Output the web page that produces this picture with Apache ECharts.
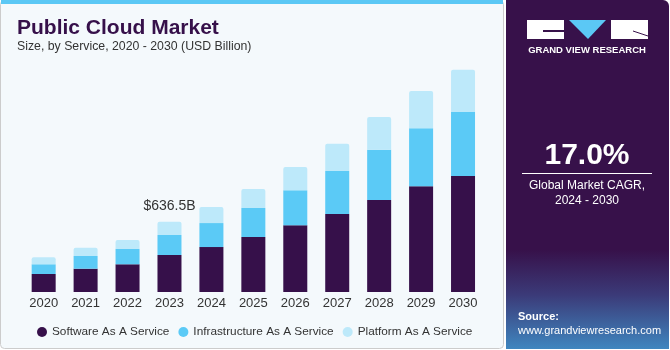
<!DOCTYPE html>
<html>
<head>
<meta charset="utf-8">
<script src="https://cdn.jsdelivr.net/npm/echarts@6/dist/echarts.min.js"></script>
<style>
  html, body { margin: 0; padding: 0; background: #ffffff; }
  #chart { width: 670px; height: 350px; }
</style>
</head>
<body>
<div id="chart"></div>
<script>
// 年份
var years = ['2020', '2021', '2022', '2023', '2024', '2025', '2026', '2027', '2028', '2029', '2030']
// 各服务的规模 (USD Billion)
var saas = [163, 211, 251, 335, 407, 498, 604, 706, 833, 957, 1050]
var iaas = [88, 115, 139, 181, 217, 263, 317, 389, 455, 525, 579]
var paas = [63, 75, 81, 120, 145, 172, 211, 247, 296, 338, 383]
// 2023 标注
var markYear = '2023'
var markText = '$636.5B'

var colorList = ['#36104A', '#5BCAF6', '#BDE9FA']
var textFont = '"Liberation Sans", Arial, sans-serif'

var myChart = echarts.init(document.getElementById('chart'))

var barLabel = {
  show: true,
  position: 'top',
  distance: 9,
  color: '#333333',
  fontSize: 14,
  fontFamily: textFont,
  formatter: function (p) {
    return p.name === markYear ? markText : ''
  }
}

myChart.setOption({
  animation: false,
  color: colorList,
  textStyle: { fontFamily: textFont },
  graphic: [
    // 左边白底卡片
    { type: 'rect', shape: { x: 0.5, y: 0.5, width: 503, height: 348, r: 4 }, style: { fill: '#F4F9FC', stroke: '#CCCCCC', lineWidth: 1 }, z: -10 },
    { type: 'rect', shape: { x: 1, y: 0, width: 502, height: 4 }, style: { fill: '#5BC8F5' }, z: -9 },
    // 标题
    { type: 'text', left: 17, top: 18, style: { text: 'Public Cloud Market', fill: '#36104A', font: '900 21px "Liberation Sans", Arial, sans-serif' } },
    { type: 'text', left: 17, top: 41, style: { text: 'Size, by Service, 2020 - 2030 (USD Billion)', fill: '#333333', font: '12.3px "Liberation Sans", Arial, sans-serif' } },
    // 右边紫色面板
    { type: 'rect', shape: { x: 506, y: 0, width: 163, height: 349, r: [0, 6, 0, 0] }, style: { fill: '#37114A' }, z: -10 },
    {
      type: 'rect', shape: { x: 506, y: 250, width: 163, height: 99 }, z: -9,
      style: {
        fill: new echarts.graphic.LinearGradient(0, 0, 0, 1, [
          { offset: 0, color: 'rgba(55,17,74,1)' },
          { offset: 0.45, color: '#3B3A78' },
          { offset: 1, color: '#3F86BF' }
        ])
      }
    },
    // logo
    { type: 'rect', shape: { x: 527, y: 20, width: 37, height: 19 }, style: { fill: '#ffffff' } },
    { type: 'rect', shape: { x: 543, y: 30, width: 21, height: 2 }, style: { fill: '#37114A' } },
    { type: 'polygon', shape: { points: [[569, 20], [606, 20], [588, 39]] }, style: { fill: '#5BC8F5' } },
    { type: 'rect', shape: { x: 611, y: 20, width: 37, height: 19 }, style: { fill: '#ffffff' } },
    { type: 'line', shape: { x1: 633, y1: 31, x2: 648, y2: 36 }, style: { stroke: '#37114A', lineWidth: 1 } },
    { type: 'text', x: 587, y: 50, style: { text: 'GRAND VIEW RESEARCH', fill: '#ffffff', font: 'bold 9.5px "Liberation Sans", Arial, sans-serif', align: 'center', verticalAlign: 'middle' } },
    // CAGR
    { type: 'text', x: 587, y: 156, style: { text: '17.0%', fill: '#ffffff', font: 'bold 30px "Liberation Sans", Arial, sans-serif', align: 'center', verticalAlign: 'middle' } },
    { type: 'line', shape: { x1: 522, y1: 173.5, x2: 652, y2: 173.5 }, style: { stroke: '#ffffff', lineWidth: 1 } },
    { type: 'text', x: 587, y: 186, style: { text: 'Global Market CAGR,', fill: '#ffffff', font: '12px "Liberation Sans", Arial, sans-serif', align: 'center', verticalAlign: 'middle' } },
    { type: 'text', x: 587, y: 201, style: { text: '2024 - 2030', fill: '#ffffff', font: '12px "Liberation Sans", Arial, sans-serif', align: 'center', verticalAlign: 'middle' } },
    // 来源
    { type: 'text', left: 518, top: 311, style: { text: 'Source:', fill: '#ffffff', font: 'bold 11px "Liberation Sans", Arial, sans-serif' } },
    { type: 'text', left: 518, top: 325, style: { text: 'www.grandviewresearch.com', fill: '#ffffff', font: '11px "Liberation Sans", Arial, sans-serif' } }
  ],
  legend: {
    left: 32,
    top: 321,
    icon: 'circle',
    itemWidth: 10,
    itemHeight: 10,
    itemGap: 9,
    textStyle: { color: '#333333', fontSize: 11.8, fontFamily: textFont },
    data: ['Software As A Service', 'Infrastructure As A Service', 'Platform As A Service']
  },
  grid: {
    left: 22.7,
    right: 186,
    top: 49,
    bottom: 58,
    containLabel: false
  },
  xAxis: {
    type: 'category',
    data: years,
    axisLine: { show: false },
    axisTick: { show: false },
    axisLabel: { color: '#333333', fontSize: 13, margin: 5 }
  },
  yAxis: {
    type: 'value',
    min: 0,
    max: 2200,
    show: false,
    splitLine: { show: false }
  },
  series: [
    {
      name: 'Software As A Service',
      type: 'bar',
      stack: 'total',
      barWidth: 24,
      data: saas,
      itemStyle: { color: colorList[0] }
    },
    {
      name: 'Infrastructure As A Service',
      type: 'bar',
      stack: 'total',
      barWidth: 24,
      data: iaas,
      itemStyle: { color: colorList[1] }
    },
    {
      name: 'Platform As A Service',
      type: 'bar',
      stack: 'total',
      barWidth: 24,
      data: paas,
      itemStyle: { color: colorList[2], borderRadius: [2, 2, 0, 0] },
      label: barLabel
    }
  ]
})
</script>
</body>
</html>
